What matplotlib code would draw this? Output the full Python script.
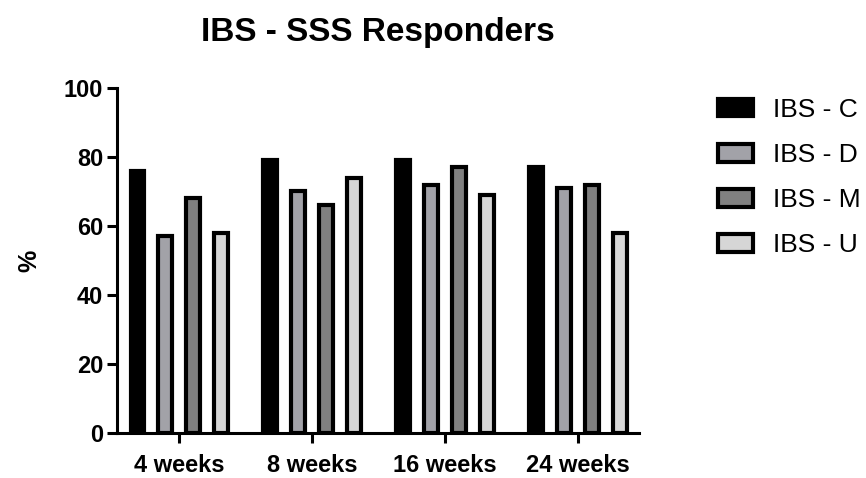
import matplotlib.pyplot as plt
import numpy as np
from matplotlib.patches import Patch

plt.rcParams['font.family'] = ['Liberation Sans', 'DejaVu Sans']

WEEKS = ['4 weeks', '8 weeks', '16 weeks', '24 weeks']
SUBTYPES = ['IBS - C', 'IBS - D', 'IBS - M', 'IBS - U']
IBS_C = [76, 79, 79, 77]
IBS_D = [57, 70, 72, 71]
IBS_M = [68, 66, 77, 72]
IBS_U = [58, 74, 69, 58]
COLORS = ['#000000', '#a2a2a8', '#808080', '#d6d6d6']

fig = plt.figure(figsize=(8.66, 4.78), dpi=100)
ax = fig.add_axes([0.135, 0.094, 0.603, 0.722])

x = np.arange(len(WEEKS))
step = 0.21
width = 0.105
for i, (vals, col) in enumerate(zip([IBS_C, IBS_D, IBS_M, IBS_U], COLORS)):
    ax.bar(x + (i - 1.5) * step, vals, width, color=col, edgecolor='black',
           linewidth=3.0, zorder=2)

ax.set_ylim(0, 100)
ax.set_xlim(-0.47, 3.46)
ax.set_yticks([0, 20, 40, 60, 80, 100])
ax.set_xticks(x)
ax.set_xticklabels(WEEKS)
for s in ['top', 'right']:
    ax.spines[s].set_visible(False)
for s in ['left', 'bottom']:
    ax.spines[s].set_linewidth(2.2)
ax.tick_params(axis='both', width=2.2, length=7, labelsize=17)
ax.tick_params(axis='x', pad=8)
ax.tick_params(axis='y', pad=3)
for lab in ax.get_xticklabels() + ax.get_yticklabels():
    lab.set_fontweight('bold')

ax.set_ylabel('%', fontsize=18, fontweight='bold', labelpad=16)
fig.text(0.436, 0.931, 'IBS - SSS Responders', ha='center', va='center',
         fontsize=24, fontweight='bold')

handles = [Patch(facecolor=c, edgecolor='black', linewidth=3.0) for c in COLORS]
ax.legend(handles, SUBTYPES, loc='upper left', bbox_to_anchor=(1.105, 1.04),
          frameon=False, fontsize=19, handlelength=1.35, handleheight=0.65,
          labelspacing=0.8, handletextpad=0.75)

plt.savefig('out.png', dpi=100)
